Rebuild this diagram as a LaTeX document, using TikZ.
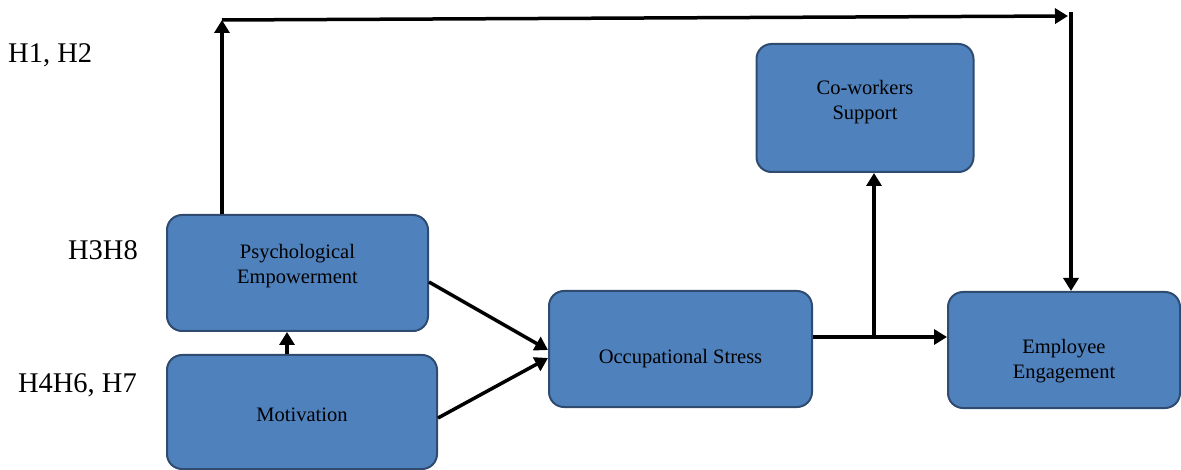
\documentclass[tikz,border=0pt]{standalone}
\usepackage{fontspec}
\setmainfont{Liberation Serif}
\usetikzlibrary{arrows.meta,calc}
\definecolor{boxfill}{HTML}{4F81BD}
\definecolor{boxline}{HTML}{2F4B70}
\tikzset{
  box/.style={draw=boxline, line width=2pt, fill=boxfill, rounded corners=15pt, inner sep=0pt},
  boxtext/.style={align=center, font=\fontsize{20.5}{25}\selectfont, inner sep=0pt},
  hlabel/.style={font=\fontsize{28.5}{32}\selectfont, inner sep=0pt},
  arr/.style={line width=3.5pt, -{Triangle[length=13pt,width=15pt]}}
}
\begin{document}
\begin{tikzpicture}[x=1pt,y=-1pt]
\useasboundingbox (0,0) rectangle (1181,470);
% boxes
\node[box, minimum width=261pt, minimum height=116pt] (pe) at (297.5,273) {};
\node[box, minimum width=270pt, minimum height=114pt] (mot) at (302,412) {};
\node[box, minimum width=263pt, minimum height=116pt] (os) at (680.5,349) {};
\node[box, minimum width=217pt, minimum height=128pt] (cs) at (865,108) {};
\node[box, minimum width=232pt, minimum height=116pt] (ee) at (1064,350) {};
% box texts
\node[boxtext] (peT) at (297.5,266) {Psychological\\Empowerment};
\node[boxtext] (motT) at (302,415) {Motivation};
\node[boxtext] (osT) at (680.5,359) {Occupational Stress};
\node[boxtext] (csT) at (865,102) {Co-workers\\Support};
\node[boxtext] (eeT) at (1064,361) {Employee\\Engagement};
% hypothesis labels
\node[hlabel, anchor=west] (h12) at (8,55) {H1, H2};
\node[hlabel, anchor=east] (h38) at (138,250) {H3H8};
\node[hlabel, anchor=east] (h467) at (137,385) {H4H6, H7};
% connectors
\coordinate (c1) at (222,20);
\coordinate (c2) at (1068,16);
\coordinate (c3) at (1071,12);
\coordinate (mp) at (287,0);
\coordinate (br) at (874,337);
\draw[arr] (pe.north -| c1) -- (c1);
\draw[arr] (c1) -- (c2);
\draw[arr] (c3) -- (c3 |- ee.north);
\draw[arr] (mot.north -| mp) -- (pe.south -| mp);
\draw[arr] ($(pe.east)+(0,9)$) -- ($(os.west)+(0,1)$);
\draw[arr] ($(mot.east)+(0,6)$) -- ($(os.west)+(0,9)$);
\draw[line width=3.5pt] (os.east |- br) -- (br);
\draw[arr] (br) -- (br -| ee.west);
\draw[arr] (br) -- (br |- cs.south);
\end{tikzpicture}
\end{document}
